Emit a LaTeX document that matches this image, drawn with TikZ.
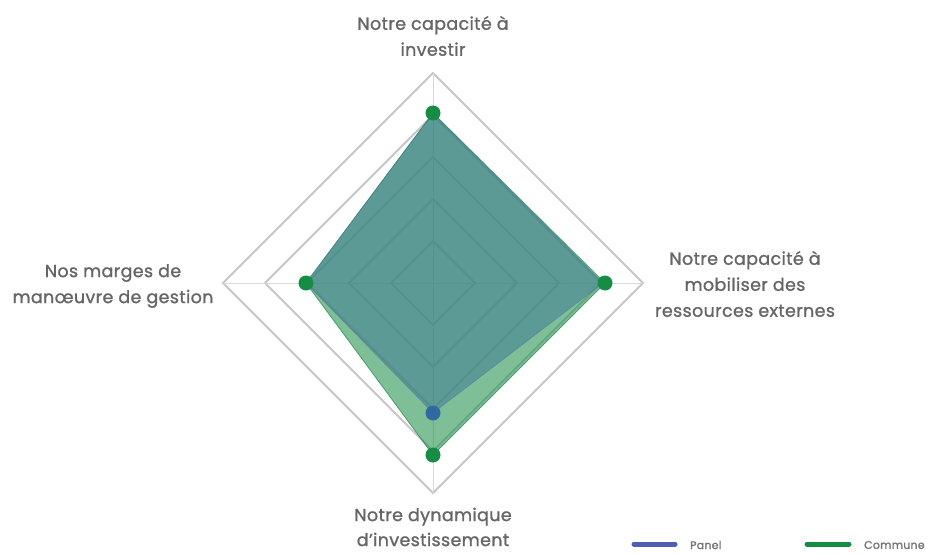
\documentclass[tikz,border=0pt]{standalone}
\usepackage{fontspec}
\setmainfont{Poppins}[FakeBold=1.2,LetterSpace=2]
\begin{document}
\begin{tikzpicture}[x=1pt,y=-1pt,
  gridline/.style={draw=black!22,line width=1.8pt,line join=miter},
  axisline/.style={draw=black!15,line width=1pt},
  lbl/.style={text=black!60,font=\fontsize{17.5}{26}\selectfont,align=center,inner sep=0pt},
  leg/.style={text=black!55,font=\fontsize{11}{12}\selectfont,anchor=west,inner sep=0pt},
  mk/.style={circle,inner sep=0pt,minimum size=15pt},
  legline/.style={line width=5pt,line cap=round}]
\definecolor{cgreen}{RGB}{22,140,68}
\definecolor{cblue}{RGB}{82,92,182}
\definecolor{pfill}{RGB}{72,132,148}
\useasboundingbox (0,0) rectangle (946,554);
\fill[white] (0,0) rectangle (946,554);
\coordinate (C) at (433,283);
% grid rings
\foreach \r in {42,84,126,168,210}{
  \draw[gridline] (433,283-\r) -- (433+\r,283) -- (433,283+\r) -- (433-\r,283) -- cycle;
}
\draw[axisline] (433,73) -- (433,493);
\draw[axisline] (223,283) -- (643,283);
% data points
\coordinate (ct) at (433,113);
\coordinate (cr) at (605,283);
\coordinate (cb) at (433,455);
\coordinate (cl) at (306,283);
\coordinate (pt) at (433,113);
\coordinate (pr) at (603,283);
\coordinate (pb) at (433,413);
\coordinate (pl) at (306,283);
% commune area
\fill[cgreen,fill opacity=0.55] (ct) -- (cr) -- (cb) -- (cl) -- cycle;
\draw[cgreen,line width=0.8pt,opacity=0.7] (ct) -- (cr) -- (cb) -- (cl) -- cycle;
% panel area
\fill[pfill,fill opacity=0.62] (pt) -- (pr) -- (pb) -- (pl) -- cycle;
\draw[cblue,line width=0.6pt,opacity=0.4] (pt) -- (pr) -- (pb) -- (pl) -- cycle;
% markers
\node[mk,fill=cblue!60!teal] (mpb) at (pb) {};
\node[mk,fill=cgreen] (mct) at (ct) {};
\node[mk,fill=cgreen] (mcr) at (cr) {};
\node[mk,fill=cgreen] (mcb) at (cb) {};
\node[mk,fill=cgreen] (mcl) at (cl) {};
% labels
\node[lbl] (lt) at (433,36) {Notre capacité à\\investir};
\node[lbl] (lr) at (745,284) {Notre capacité à\\mobiliser des\\ressources externes};
\node[lbl] (ll) at (113,286) {Nos marges de\\manœuvre de gestion};
\node[lbl,font=\fontsize{17.5}{25}\selectfont] (lb) at (433,527) {Notre dynamique\\d'investissement};
% legend
\coordinate (p1) at (634,544);
\coordinate (p2) at (675,544);
\coordinate (c1) at (807,544);
\coordinate (c2) at (849,544);
\draw[legline,cblue] (p1) -- (p2);
\draw[legline,cgreen] (c1) -- (c2);
\node[leg] (tp) at (690,545) {Panel};
\node[leg] (tc) at (864,545) {Commune};
\end{tikzpicture}
\end{document}
